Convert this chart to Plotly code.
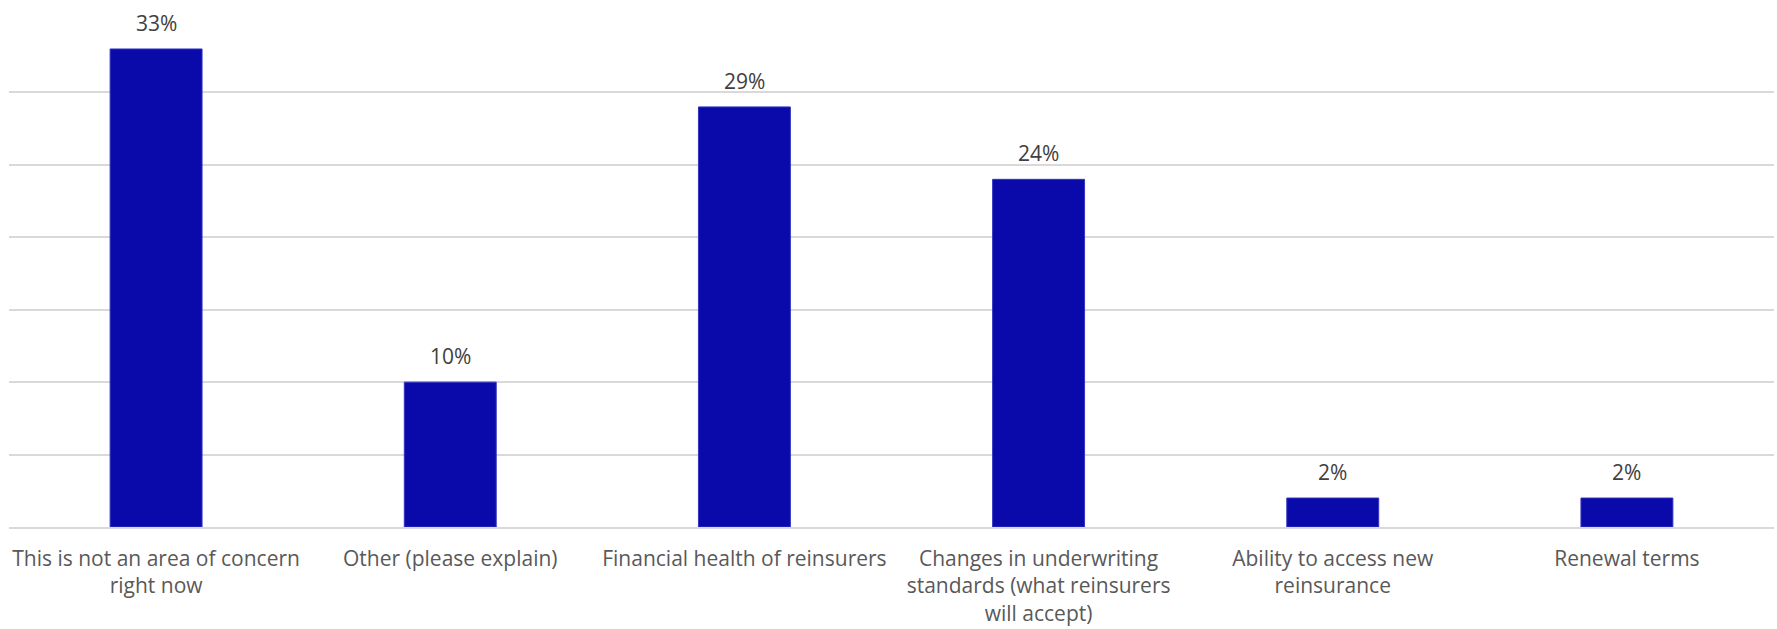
import plotly.graph_objects as go

# Survey responses: share of respondents (%) per reinsurance concern
categories = [
    "This is not an area of concern<br>right now",
    "Other (please explain)",
    "Financial health of reinsurers",
    "Changes in underwriting<br>standards (what reinsurers<br>will accept)",
    "Ability to access new<br>reinsurance",
    "Renewal terms",
]
shares = [33, 10, 29, 24, 2, 2]

FONT = "'Open Sans', sans-serif"
FONT_SIZE = 21

fig = go.Figure(
    go.Bar(
        x=categories,
        y=shares,
        marker=dict(color="#0A0AAA", line=dict(color="#3434C4", width=1)),
        hoverinfo="skip",
    )
)

# Value labels sit a little above each bar top
for cat, val in zip(categories, shares):
    fig.add_annotation(
        x=cat,
        y=val,
        text=f"{val}%",
        showarrow=False,
        yanchor="bottom",
        yshift=10,
        font=dict(family=FONT, size=FONT_SIZE, color="#404040"),
    )

fig.update_layout(
    width=1777,
    height=629,
    autosize=False,
    margin=dict(l=9, r=3, t=20, b=102),
    paper_bgcolor="white",
    plot_bgcolor="white",
    bargap=0.6875,
    showlegend=False,
    font=dict(family=FONT, size=FONT_SIZE, color="#595959"),
)

fig.update_xaxes(
    showgrid=False,
    showline=True,
    linecolor="#D9D9D9",
    linewidth=1.5,
    ticks="",
    ticklabelstandoff=12,
    tickfont=dict(family=FONT, size=FONT_SIZE, color="#595959"),
    fixedrange=True,
)

fig.update_yaxes(
    range=[0, 35],
    dtick=5,
    showgrid=True,
    gridcolor="#D9D9D9",
    gridwidth=1.5,
    zeroline=False,
    showticklabels=False,
    ticks="",
    fixedrange=True,
)

fig.write_html("out.html")
